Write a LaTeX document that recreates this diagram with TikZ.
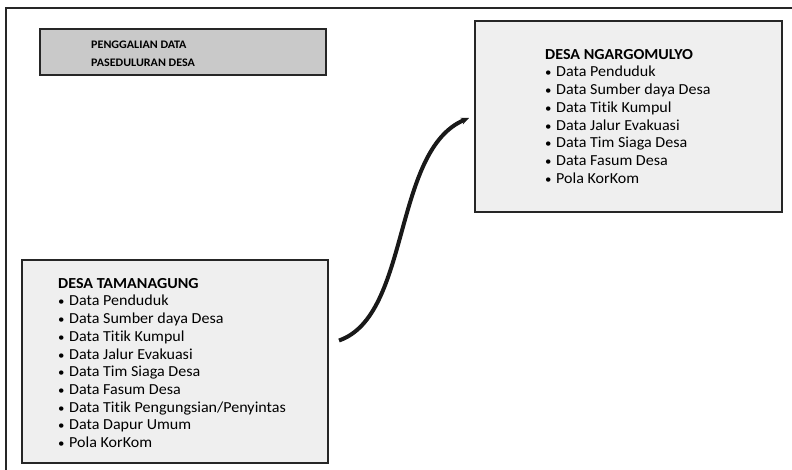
\documentclass[tikz,border=0pt]{standalone}
\usepackage{fontspec}
\setmainfont{Carlito}[FakeStretch=1.05, Ligatures=NoCommon]
\usetikzlibrary{positioning,arrows.meta}
\definecolor{boxline}{HTML}{262626}
\definecolor{judulfill}{HTML}{C9C9C9}
\definecolor{desafill}{HTML}{EFEFEF}
\tikzset{
  judulbox/.style={draw=boxline, fill=judulfill, line width=2pt, inner sep=0pt},
  desabox/.style={draw=boxline, fill=desafill, line width=2pt, inner sep=0pt},
  judultext/.style={inner sep=0pt, align=left, font=\fontsize{11.5}{17.5}\selectfont\bfseries},
  desatext/.style={inner sep=0pt, align=left, font=\fontsize{15.3}{17.7}\selectfont},
  link/.style={line width=4pt, color=black!90, -{Stealth[length=8pt,width=7pt]}}
}
\newcommand{\butir}{\makebox[11pt][l]{\scalebox{0.8}{\textbullet}}}
\begin{document}
\begin{tikzpicture}[x=1pt,y=-1pt]
  %%%%% START %%%%%
  \useasboundingbox (0,0) rectangle (792,470);

  % frame
  \draw[line width=2.5pt, color=boxline] (6,470) -- (6,8) -- (792,8);

  % judul
  \node[judulbox, minimum width=286pt, minimum height=46pt] (judul) at (183,52) {};
  \node[judultext, below right=13pt and 52pt of judul.north west] (judultext)
    {PENGGALIAN DATA\\PASEDULURAN DESA};

  % desa ngargomulyo
  \node[desabox, minimum width=307pt, minimum height=191pt] (ngbox) at (628.5,116.5) {};
  \node[desatext, below right=29pt and 71pt of ngbox.north west] (ngtext)
    {\textbf{DESA NGARGOMULYO}\\
     \butir Data Penduduk\\
     \butir Data Sumber daya Desa\\
     \butir Data Titik Kumpul\\
     \butir Data Jalur Evakuasi\\
     \butir Data Tim Siaga Desa\\
     \butir Data Fasum Desa\\
     \butir Pola KorKom};

  % desa tamanagung
  \node[desabox, minimum width=306pt, minimum height=203pt] (tmbox) at (175,361.5) {};
  \node[desatext, below right=19pt and 37pt of tmbox.north west] (tmtext)
    {\textbf{DESA TAMANAGUNG}\\
     \butir Data Penduduk\\
     \butir Data Sumber daya Desa\\
     \butir Data Titik Kumpul\\
     \butir Data Jalur Evakuasi\\
     \butir Data Tim Siaga Desa\\
     \butir Data Fasum Desa\\
     \butir Data Titik Pengungsian/Penyintas\\
     \butir Data Dapur Umum\\
     \butir Pola KorKom};

  % link
  \draw[link] ([xshift=10pt,yshift=21pt]tmbox.east)
    .. controls +(72,-25) and +(-77,32) .. ([xshift=-5pt,yshift=-1.5pt]ngbox.west);
  %%%%% END %%%%%
\end{tikzpicture}
\end{document}
